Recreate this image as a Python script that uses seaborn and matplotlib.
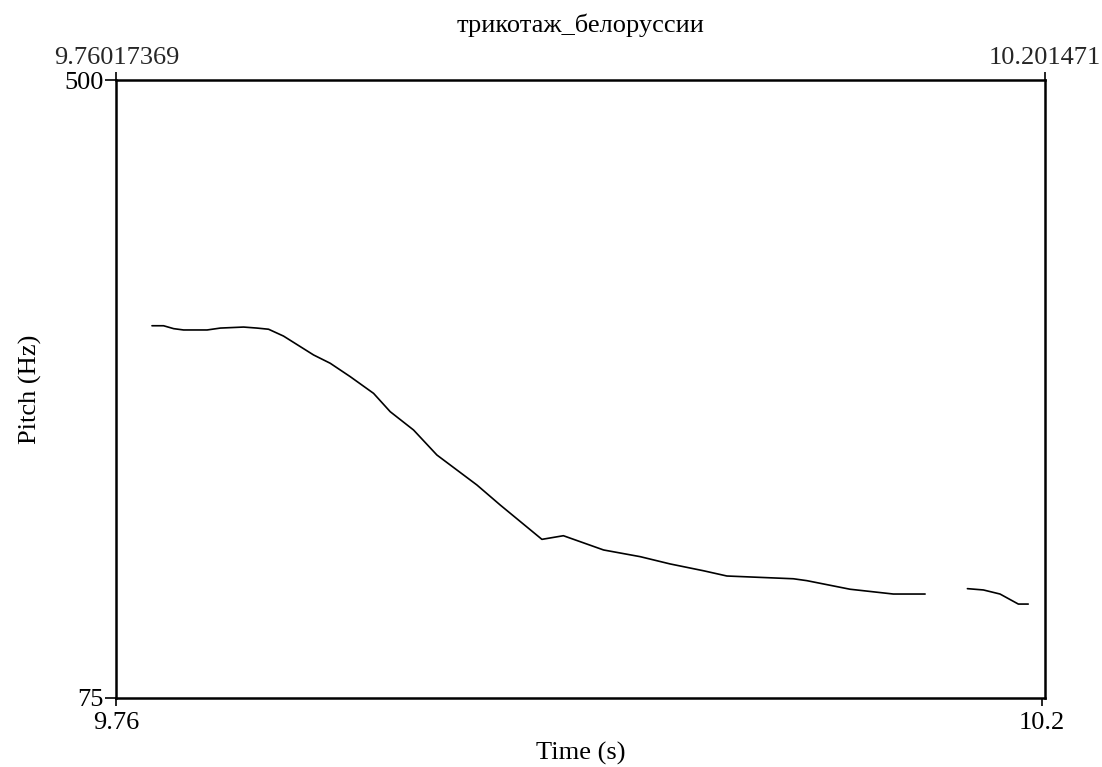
import numpy as np
import pandas as pd
import matplotlib
matplotlib.use("Agg")
import matplotlib.pyplot as plt
import seaborn as sns

# Data (Praat pitch contour)
time_s = [9.7771, 9.7826, 9.7874, 9.7921, 9.8033, 9.8096, 9.8206, 9.8270, 9.8325,
          9.8396, 9.8539, 9.8618, 9.8713, 9.8824, 9.8903, 9.9014, 9.9125, 9.9315,
          9.9426, 9.9624, 9.9726, 9.9806, 9.9917, 10.0091, 10.0233, 10.0392,
          10.0503, 10.0819, 10.0883, 10.1088, 10.1294, 10.1445,
          10.1646, 10.1722, 10.1801, 10.1888, 10.1935]
pitch_hz = [331.0, 331.0, 329.0, 328.1, 328.1, 329.4, 330.1, 329.4, 328.6,
            323.9, 310.9, 305.2, 296.0, 284.5, 271.9, 259.3, 242.1, 221.5,
            207.7, 184.1, 186.6, 182.5, 176.8, 172.2, 167.2, 162.5,
            158.9, 157.0, 155.7, 149.8, 146.5, 146.5,
            150.2, 149.3, 146.5, 139.6, 139.6]
segment = [0] * 32 + [1] * 5

t_min, t_max = 9.76017369, 10.201471
f_min, f_max = 75, 500
title = "трикотаж_белоруссии"

df = pd.DataFrame({"time": time_s, "pitch": pitch_hz, "seg": segment})

sns.set_theme(style="white")
plt.rcParams["font.family"] = ["Liberation Serif", "DejaVu Serif"]

fig = plt.figure(figsize=(11.02, 7.67), dpi=100)
ax = fig.add_axes([116 / 1102, 1 - 698 / 767, (1045 - 116) / 1102, (698 - 80) / 767])

sns.lineplot(data=df, x="time", y="pitch", units="seg", estimator=None,
             color="black", linewidth=1.2, ax=ax, legend=False)

ax.set_xlim(t_min, t_max)
ax.set_ylim(f_min, f_max)
for s in ax.spines.values():
    s.set_color("black")
    s.set_linewidth(1.8)

fs = 19
ax.set_xticks([9.76, 10.2])
ax.set_xticklabels(["9.76", "10.2"], fontsize=fs)
ax.set_yticks([75, 500])
ax.set_yticklabels(["75", "500"], fontsize=fs)
ax.tick_params(axis="x", direction="out", length=6, width=1.2, color="black",
               bottom=True, pad=4, labelcolor="black")
ax.tick_params(axis="y", direction="out", length=8, width=1.2, color="black",
               left=True, pad=1, labelcolor="black")
ax.set_xlabel("Time (s)", fontsize=fs, color="black", labelpad=6)
ax.set_ylabel("Pitch (Hz)", fontsize=fs, color="black", labelpad=16)

sec = ax.secondary_xaxis("top")
sec.set_xticks([t_min, t_max])
sec.set_xticklabels(["9.76017369", "10.201471"], fontsize=fs)
sec.tick_params(direction="out", length=6, width=1.2, color="black", pad=2)
sec.spines["top"].set_visible(False)

fig.text((116 + 1045) / 2 / 1102, 1 - 25 / 767, title, ha="center", va="center",
         fontsize=fs, color="black")

fig.savefig("out.png", dpi=100, facecolor="white")
